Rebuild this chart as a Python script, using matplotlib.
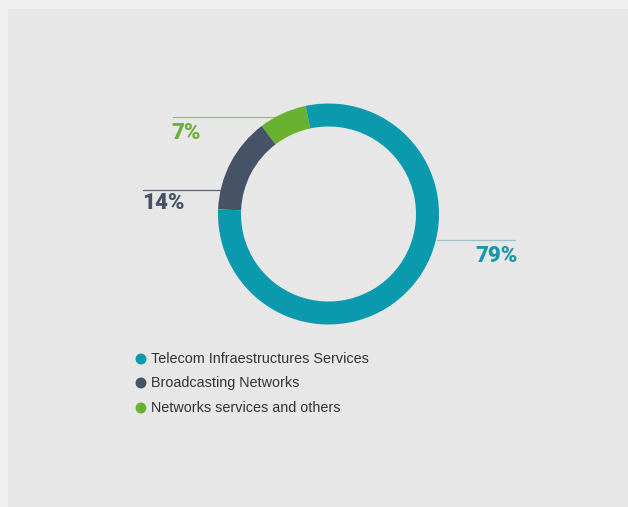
import matplotlib
matplotlib.use("Agg")
import matplotlib.pyplot as plt
from matplotlib.patches import Rectangle

# Data
categories = ["Telecom Infraestructures Services", "Broadcasting Networks", "Networks services and others"]
values = [79, 14, 7]
colors = ["#0a99ad", "#465367", "#69b22f"]
label_colors = ["#1897aa", "#465367", "#6bb03a"]
line_colors = ["#9cc1c8", "#5a6578", "#9fb88e"]

W, H = 628, 507
fig = plt.figure(figsize=(W / 100, H / 100), dpi=100)
fig.patch.set_facecolor("#efefef")
ax = fig.add_axes([0, 0, 1, 1])

# panel
ax.add_patch(Rectangle((8, 0), W - 8, H - 9, facecolor="#e7e7e7", edgecolor="none", zorder=0))

cx, cy = 328.5, H - 214
R = 110.5
# draw order counterclockwise: green, dark, teal
order = [2, 1, 0]
wedges, _ = ax.pie([values[i] for i in order], colors=[colors[i] for i in order],
                   startangle=102, counterclock=True, center=(cx, cy), radius=R,
                   wedgeprops=dict(width=23, edgecolor="none", linewidth=0))
for w in wedges:
    w.set_zorder(2)

ax.set_xlim(0, W)
ax.set_ylim(0, H)
ax.set_aspect("auto")
ax.axis("off")

# percent labels with leader lines (pixel positions)
label_pos = {
    0: dict(tx=475, ty=256, lx=(437, 515), ly=240),
    1: dict(tx=142, ty=203, lx=(143, 221), ly=190),
    2: dict(tx=171, ty=133, lx=(173, 276), ly=117),
}
for i, v in enumerate(values):
    p = label_pos[i]
    ax.plot(p["lx"], [H - p["ly"]] * 2, color=line_colors[i], lw=0.9, zorder=1)
    ax.text(p["tx"], H - p["ty"], f"{v}%", color=label_colors[i], fontsize=16,
            fontweight="black", family="Roboto", ha="left", va="center")

# legend
leg_y = [359, 383, 408]
for i, cat in enumerate(categories):
    ax.scatter([141], [H - leg_y[i]], s=62, color=colors[i], edgecolors="none", zorder=3)
    ax.text(151, H - leg_y[i], cat, color="#333333", fontsize=10.4,
            family="Liberation Sans", ha="left", va="center")

fig.savefig("out.png", dpi=100, facecolor=fig.get_facecolor())
